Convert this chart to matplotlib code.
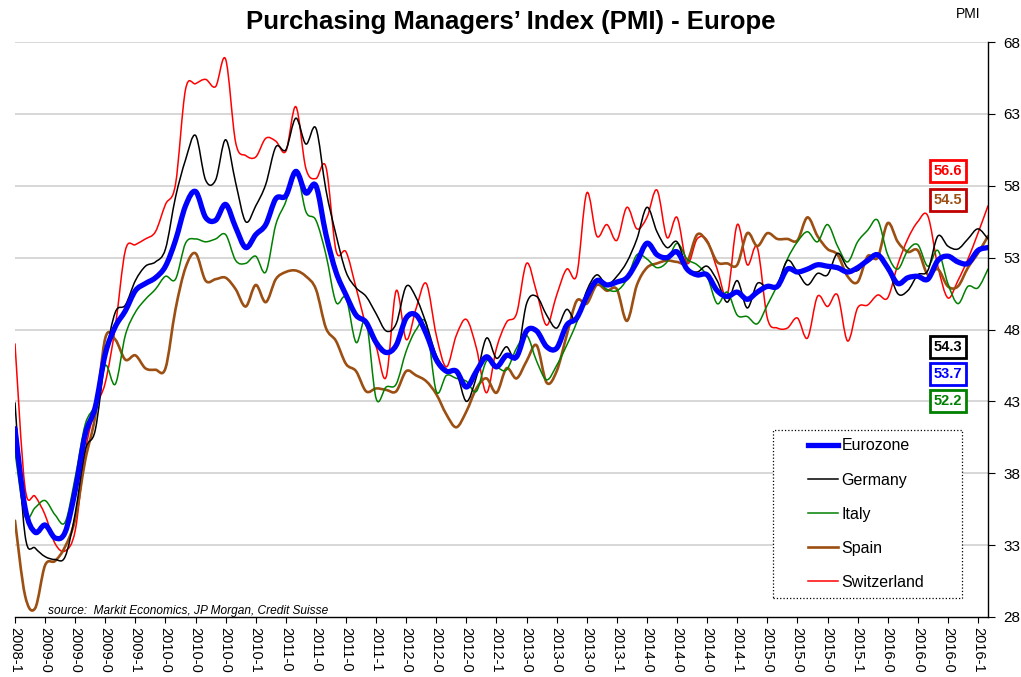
import numpy as np
import matplotlib
matplotlib.use("Agg")
import matplotlib.pyplot as plt
from matplotlib.path import Path
from matplotlib.patches import PathPatch
from matplotlib.lines import Line2D
from matplotlib.legend_handler import HandlerBase

plt.rcParams['font.family'] = ['Liberation Sans', 'DejaVu Sans']

# monthly PMI readings, Oct 2008 .. Nov 2016
eurozone = [41.1, 35.6, 33.9,
            34.4, 33.5, 33.9, 36.8, 40.7, 42.6, 46.3, 48.2, 49.3, 50.7, 51.2, 51.6,
            52.4, 54.2, 56.6, 57.6, 55.8, 55.6, 56.7, 55.1, 53.7, 54.6, 55.3, 57.1,
            57.3, 59.0, 57.5, 58.0, 54.6, 52.0, 50.4, 49.0, 48.5, 47.1, 46.4, 46.9,
            48.8, 49.0, 47.7, 45.9, 45.1, 45.1, 44.0, 45.1, 46.1, 45.4, 46.2, 46.1,
            47.9, 47.9, 46.8, 46.7, 48.3, 48.8, 50.3, 51.4, 51.1, 51.3, 51.6, 52.7,
            54.0, 53.2, 53.0, 53.4, 52.2, 51.8, 51.8, 50.7, 50.3, 50.6, 50.1, 50.6,
            51.0, 51.0, 52.2, 52.0, 52.2, 52.5, 52.4, 52.3, 52.0, 52.3, 52.8, 53.2,
            52.3, 51.2, 51.6, 51.7, 51.5, 52.8, 53.1, 52.7, 52.6, 53.5, 53.7]

germany = [42.9, 33.7, 32.8,
           32.2, 32.0, 32.2, 35.2, 39.6, 41.0, 46.0, 49.2, 49.7, 51.4, 52.4, 52.7,
           53.6, 57.2, 59.8, 61.5, 58.4, 58.4, 61.2, 58.2, 55.5, 56.6, 58.1, 60.7,
           60.5, 62.7, 60.9, 62.0, 57.7, 54.6, 52.0, 50.9, 50.3, 49.1, 47.9, 48.4,
           51.0, 50.2, 48.4, 46.2, 45.2, 45.0, 43.0, 44.7, 47.4, 46.0, 46.8, 46.0,
           49.8, 50.3, 49.0, 48.1, 49.4, 48.6, 50.7, 51.8, 51.1, 51.7, 52.7, 54.3,
           56.5, 54.8, 53.7, 54.1, 52.3, 52.0, 52.4, 51.4, 49.9, 51.4, 49.5, 51.2,
           50.9, 51.1, 52.8, 52.0, 51.1, 51.9, 51.8, 53.3, 52.3, 52.1, 52.9, 53.2,
           52.3, 50.5, 50.7, 51.8, 52.1, 54.5, 53.8, 53.6, 54.3, 55.0, 54.3]

italy = [39.5, 35.0, 35.6,
         36.1, 35.1, 34.6, 37.7, 41.4, 42.8, 45.5, 44.2, 47.6, 49.2, 50.1, 50.8,
         51.7, 51.5, 54.0, 54.3, 54.1, 54.3, 54.6, 52.8, 52.6, 53.1, 52.0, 55.3,
         56.9, 59.1, 56.2, 55.6, 53.2, 49.9, 50.2, 47.1, 48.6, 43.2, 44.0, 44.2,
         46.5, 48.0, 48.4, 43.7, 44.8, 44.6, 44.4, 43.7, 45.8, 45.4, 45.2, 46.7,
         47.6, 45.8, 44.5, 45.5, 46.9, 48.5, 50.6, 51.3, 50.8, 50.7, 51.5, 53.2,
         52.9, 52.3, 52.7, 54.0, 52.9, 52.5, 51.7, 49.8, 50.6, 49.0, 48.9, 48.4,
         49.7, 51.1, 52.9, 54.1, 54.8, 54.1, 55.3, 53.8, 52.7, 54.1, 54.9, 55.6,
         53.2, 52.2, 53.5, 53.9, 52.4, 53.5, 51.2, 49.8, 51.0, 50.9, 52.2]

spain = [34.7, 29.5, 28.6,
         31.6, 31.9, 32.9, 34.8, 38.9, 42.0, 47.4, 47.3, 45.9, 46.2, 45.3, 45.2,
         45.3, 49.4, 52.3, 53.3, 51.4, 51.5, 51.6, 50.8, 49.6, 51.1, 49.9, 51.5,
         52.0, 52.1, 51.7, 50.8, 48.1, 47.2, 45.6, 45.1, 43.7, 43.9, 43.8, 43.7,
         45.1, 44.8, 44.4, 43.5, 42.1, 41.2, 42.3, 43.9, 44.6, 43.6, 45.3, 44.6,
         45.8, 46.9, 44.3, 45.1, 47.6, 50.0, 49.8, 51.1, 50.7, 50.8, 48.6, 51.1,
         52.3, 52.6, 52.8, 52.7, 52.7, 54.6, 54.1, 52.7, 52.6, 52.5, 54.7, 53.8,
         54.7, 54.3, 54.3, 54.2, 55.8, 54.5, 53.6, 53.2, 51.7, 51.3, 53.1, 53.0,
         55.4, 54.1, 53.4, 53.5, 51.8, 52.2, 51.0, 51.0, 52.3, 53.3, 54.5]

switzerland = [47.0, 37.0, 36.4,
               35.1, 33.1, 32.6, 34.0, 39.5, 42.5, 44.3, 48.2, 53.5, 53.9, 54.3, 54.8,
               56.7, 58.1, 64.7, 65.1, 65.4, 64.9, 66.8, 61.0, 60.1, 60.0, 61.3, 61.1,
               60.4, 63.5, 59.2, 58.5, 59.3, 53.5, 53.4, 50.9, 48.3, 46.8, 44.7, 50.7,
               47.3, 49.5, 51.2, 47.6, 45.4, 47.6, 48.7, 46.7, 43.6, 46.7, 48.5, 49.1,
               52.6, 50.6, 48.3, 50.4, 52.2, 51.8, 57.5, 54.5, 55.3, 54.2, 56.5, 55.0,
               55.8, 57.7, 54.4, 55.8, 52.6, 54.3, 54.2, 52.2, 50.4, 55.3, 52.5, 53.7,
               48.8, 48.1, 48.1, 48.8, 47.4, 50.3, 49.6, 50.4, 47.2, 49.5, 49.7, 50.4,
               50.2, 52.5, 54.3, 55.5, 55.9, 52.4, 50.2, 51.4, 52.9, 54.7, 56.6]

# quarterly tick labels (cut short as in the original)
tick_labels = ["2008-1", "2009-0", "2009-0", "2009-0", "2009-1",
               "2010-0", "2010-0", "2010-0", "2010-1",
               "2011-0", "2011-0", "2011-0", "2011-1",
               "2012-0", "2012-0", "2012-0", "2012-1",
               "2013-0", "2013-0", "2013-0", "2013-1",
               "2014-0", "2014-0", "2014-0", "2014-1",
               "2015-0", "2015-0", "2015-0", "2015-1",
               "2016-0", "2016-0", "2016-0", "2016-1"]

names = ["Eurozone", "Germany", "Italy", "Spain", "Switzerland"]


def smooth_path(vals):
    # excel style smoothed line: catmull-rom segments as cubic beziers
    pts = np.column_stack([np.arange(len(vals)), np.asarray(vals, float)])
    n = len(pts)
    verts = [pts[0]]
    codes = [Path.MOVETO]
    for i in range(n - 1):
        p0 = pts[i - 1] if i > 0 else pts[i]
        p1 = pts[i]
        p2 = pts[i + 1]
        p3 = pts[i + 2] if i + 2 < n else pts[i + 1]
        verts += [p1 + (p2 - p0) / 6.0, p2 - (p3 - p1) / 6.0, p2]
        codes += [Path.CURVE4] * 3
    return Path(verts, codes)


class ShortLine(HandlerBase):
    # legend key drawn only in the right part of the handle box
    def create_artists(self, legend, orig_handle, xdescent, ydescent,
                       width, height, fontsize, trans):
        y = height / 2 - ydescent
        x0 = -xdescent + width * 0.47
        ln = Line2D([x0, -xdescent + width], [y, y],
                    color=orig_handle.get_color(),
                    lw=orig_handle.get_linewidth(), transform=trans)
        return [ln]


W, H = 1021, 677
fig = plt.figure(figsize=(W / 100, H / 100), dpi=100)
ax = fig.add_axes([15 / W, 1 - 617 / H, 973 / W, 575 / H])

ax.set_xlim(0, len(eurozone) - 1)
ax.set_ylim(28, 68)

for v in range(33, 69, 5):
    ax.axhline(v, color="#d4d4d4", lw=1.3, zorder=0)

colors = ["#0000ff", "#000000", "#008000", "#9c4f12", "#ff0000"]
widths = [3.8, 1.1, 1.1, 1.9, 1.1]
data = [eurozone, germany, italy, spain, switzerland]

# draw switzerland first, eurozone on top
for vals, col, lw in list(zip(data, colors, widths))[::-1]:
    ax.add_patch(PathPatch(smooth_path(vals), facecolor="none", edgecolor=col,
                           lw=lw, capstyle="round", joinstyle="round", zorder=2))

for s in ["left", "top"]:
    ax.spines[s].set_visible(False)
ax.spines["right"].set_linewidth(1.0)
ax.spines["bottom"].set_linewidth(1.0)

ax.yaxis.tick_right()
ax.set_yticks(range(28, 69, 5))
ax.tick_params(axis="y", direction="out", length=5, labelsize=11, pad=6)
ax.set_xticks(range(0, len(eurozone), 3))
ax.set_xticklabels(tick_labels, rotation=-90, fontsize=10.5)
ax.tick_params(axis="x", direction="out", length=4, pad=3)

handles = [Line2D([], [], color=c, lw=w) for c, w in zip(colors, widths)]
leg = ax.legend(handles, names, loc="lower left",
                bbox_to_anchor=(0.779, 0.033, 0.194, 0.292), mode="expand",
                fontsize=11.5, labelspacing=1.2, handlelength=3.55,
                handletextpad=0.25, borderpad=0.5, borderaxespad=0,
                fancybox=False, framealpha=1,
                handler_map={Line2D: ShortLine()})
leg.get_frame().set_edgecolor("black")
leg.get_frame().set_linestyle(":")
leg.get_frame().set_linewidth(0.9)

fig.text(0.5, 1 - 22 / H, "Purchasing Managers’ Index (PMI) - Europe",
         ha="center", va="center", fontsize=18.5, fontweight="bold")
fig.text(968 / W, 1 - 14 / H, "PMI", ha="center", va="center", fontsize=10)
ax.text(33 / 973, 6 / 575, "source:  Markit Economics, JP Morgan, Credit Suisse",
        transform=ax.transAxes, fontsize=8.6, style="italic", va="center")

# latest value boxes
box_text = ["56.6", "54.5", "54.3", "53.7", "52.2"]
box_color = ["#ff0000", "#9c4f12", "#000000", "#0000ff", "#008000"]
box_edge = ["#ff0000", "#c00000", "#000000", "#0000ff", "#008000"]
box_y = [171, 200, 347, 374, 401]
for txt, tc, ec, ypix in zip(box_text, box_color, box_edge, box_y):
    fig.text(948 / W, 1 - ypix / H, txt, ha="center", va="center", color=tc,
             fontsize=10.5, fontweight="bold",
             bbox=dict(boxstyle="square,pad=0.25", facecolor="white",
                       edgecolor=ec, lw=2))

fig.savefig("out.png", dpi=100)
